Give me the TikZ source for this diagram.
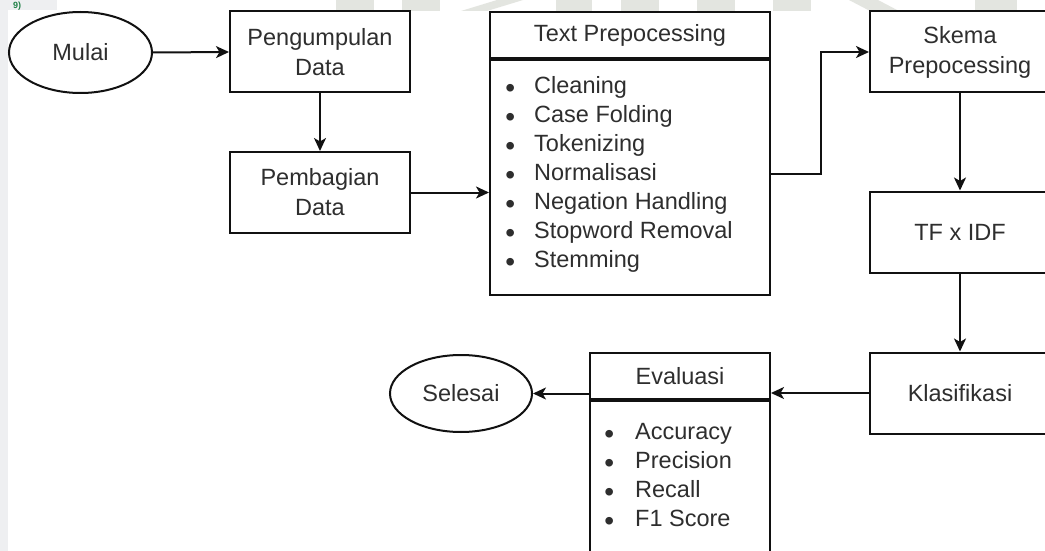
\documentclass[tikz,border=0pt]{standalone}
\usepackage{fontspec}
\setmainfont{Liberation Sans}
\usetikzlibrary{arrows.meta,positioning,shapes.geometric}
\definecolor{ink}{HTML}{111111}
\definecolor{label}{HTML}{2E2E2E}
\definecolor{wmgray}{HTML}{E3E5E0}
\definecolor{strip}{HTML}{EEEFF1}
\definecolor{logo}{HTML}{1E7F45}
\newcommand{\listdot}{\smash{\raisebox{-4.4pt}{\fontsize{28}{28}\selectfont\textbullet}}}

\begin{document}
\begin{tikzpicture}[x=1pt,y=-1pt,
  every node/.style={font=\fontsize{23.5}{30}\selectfont,text=label},
  box/.style={draw=ink,line width=2pt,minimum width=180pt,minimum height=81pt,inner sep=0pt,align=center},
  term/.style={ellipse,draw=ink,line width=2pt,inner sep=0pt},
  item/.style={anchor=base west,inner sep=0pt},
  flow/.style={draw=ink,line width=2pt,-{Stealth[length=13pt,width=12pt,inset=3.5pt]}}]
  \useasboundingbox (0,0) rectangle (1045,551);
  \clip (0,0) rectangle (1045,551);
  \fill[white] (0,0) rectangle (1045,551);

  \fill[strip] (0,0) rectangle (8,551);
  \fill[strip] (8,0) rectangle (57,10);
  \foreach \a/\b in {336/374,402/440,556/592,621/659,697/735,773/811,975/1017} {
    \fill[wmgray] (\a,0) rectangle (\b,11);
  }
  \fill[wmgray] (461,11) -- (497,0) -- (523,0) -- (487,11) -- cycle;
  \fill[wmgray] (849,0) -- (878,0) -- (899,11) -- (870,11) -- cycle;
  \node[anchor=base west,inner sep=0pt,font=\fontsize{9}{9}\selectfont\bfseries,text=logo] (page) at (13,9) {9)};

  \node[term,minimum width=143pt,minimum height=81pt] (mulai) at (80.5,52.5) {Mulai};
  \node[box] (kumpul) at (320,52) {Pengumpulan\\Data};
  \node[box] (bagi) at (320,192.5) {Pembagian\\Data};

  \node[box,minimum width=280pt,minimum height=46pt] (tphead) at (630,35) {Text Prepocessing};
  \node[box,minimum width=280pt,minimum height=235pt,anchor=north] (tpbody) at (tphead.south) {};
  \foreach \t [count=\i from 0] in {Cleaning,Case Folding,Tokenizing,Normalisasi,Negation Handling,Stopword Removal,Stemming} {
    \node[item] (tp\i) at (534,93+29*\i) {\llap{\listdot\hspace{19pt}}\t};
  }

  \node[box] (skema) at (960,52) {Skema\\Prepocessing};
  \node[box] (tfidf) at (960,232) {TF x IDF};
  \node[box] (klas) at (960,393) {Klasifikasi};

  \node[box,minimum height=46pt] (evhead) at (680,376) {Evaluasi};
  \node[box,minimum height=170pt,anchor=north] (evbody) at (evhead.south) {};
  \foreach \t [count=\i from 0] in {Accuracy,Precision,Recall,F1 Score} {
    \node[item] (ev\i) at (635,439+29*\i) {\llap{\listdot\hspace{21pt}}\t};
  }

  \node[term,minimum width=142pt,minimum height=77pt] (selesai) at (461,393.5) {Selesai};

  \draw[flow] (mulai.east) -- (kumpul.west);
  \draw[flow] (kumpul) -- (bagi);
  \draw[flow] (bagi.east) -- (bagi.east -| tpbody.west);
  \draw[flow] ([yshift=3.5pt]tpbody.east) -- ++(50,0) |- (skema.west);
  \draw[flow] (skema) -- (tfidf);
  \draw[flow] (tfidf) -- (klas);
  \draw[flow] (klas.west) -- (klas.west -| evhead.east);
  \draw[flow] (selesai.east -| evhead.west) -- (selesai.east);
\end{tikzpicture}
\end{document}
